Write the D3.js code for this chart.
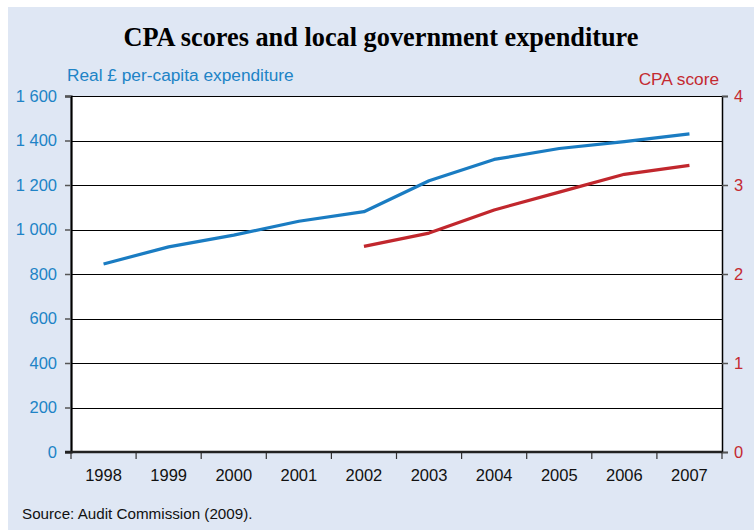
<!DOCTYPE html>
<html>
<head>
<meta charset="utf-8">
<script src="https://cdn.jsdelivr.net/npm/d3@7/dist/d3.min.js"></script>
<style>
  html, body { margin: 0; padding: 0; background: #ffffff; }
  svg { display: block; }
</style>
</head>
<body>
<div id="chart"></div>
<script>
// Years on the x axis
const years = ["1998", "1999", "2000", "2001", "2002", "2003", "2004", "2005", "2006", "2007"];
// Real £ per-capita local government expenditure (left axis)
const expenditure = [845, 922, 975, 1037, 1080, 1219, 1315, 1364, 1395, 1430];
// CPA scores (right axis), available from 2002
const cpaYears = ["2002", "2003", "2004", "2005", "2006", "2007"];
const cpaScores = [2.31, 2.46, 2.72, 2.92, 3.12, 3.22];
// Axis ticks
const leftTicks = [0, 200, 400, 600, 800, 1000, 1200, 1400, 1600];
const rightTicks = [0, 1, 2, 3, 4];

const W = 754, H = 531;
const blue = "#1a7cc2", red = "#c1272d";
const blueText = "#2083c6", redText = "#c42a31";

const svg = d3.select("#chart").append("svg")
  .attr("width", W).attr("height", H);

// background panel
svg.append("rect").attr("x", 8).attr("y", 7).attr("width", W - 8).attr("height", 523)
  .attr("fill", "#dfe7f4");

const plot = { left: 71, right: 722, top: 96, bottom: 452 };

svg.append("rect")
  .attr("x", plot.left).attr("y", plot.top)
  .attr("width", plot.right - plot.left).attr("height", plot.bottom - plot.top)
  .attr("fill", "#ffffff");

const x = d3.scaleBand().domain(years).range([plot.left, plot.right]);
const yL = d3.scaleLinear().domain([0, 1600]).range([plot.bottom, plot.top]);
const yR = d3.scaleLinear().domain([0, 4]).range([plot.bottom, plot.top]);

// thousands separated by a space, e.g. "1 600"
const fmtL = d => d3.format(",")(d).replace(/,/g, " ");

// horizontal gridlines
svg.append("g").selectAll("line").data(leftTicks.filter(v => v > 0)).join("line")
  .attr("x1", plot.left).attr("x2", plot.right)
  .attr("y1", d => Math.round(yL(d)) + 0.5).attr("y2", d => Math.round(yL(d)) + 0.5)
  .attr("stroke", "#000").attr("stroke-width", 1.2);

// left axis
const gL = svg.append("g").attr("transform", `translate(${plot.left},0)`)
  .call(d3.axisLeft(yL).tickValues(leftTicks).tickSize(6).tickPadding(8).tickFormat(fmtL));
gL.select(".domain").attr("stroke", "#000").attr("stroke-width", 2.2);
gL.selectAll(".tick line").attr("stroke", "#555").attr("stroke-width", 1.5);
gL.selectAll(".tick text").attr("fill", blueText)
  .style("font-family", "'Liberation Sans', Arial, sans-serif").style("font-size", "16.5px");

// right axis
const gR = svg.append("g").attr("transform", `translate(${plot.right},0)`)
  .call(d3.axisRight(yR).tickValues(rightTicks).tickSize(6).tickPadding(6).tickFormat(d3.format("d")));
gR.select(".domain").attr("stroke", "#000").attr("stroke-width", 1.5);
gR.selectAll(".tick line").attr("stroke", "#555").attr("stroke-width", 1.5);
gR.selectAll(".tick text").attr("fill", redText)
  .style("font-family", "'Liberation Sans', Arial, sans-serif").style("font-size", "16.5px");

// bottom axis with ticks at band edges
const gB = svg.append("g").attr("transform", `translate(0,${plot.bottom})`);
const edges = years.map(y => x(y)).concat([plot.right]);
gB.selectAll("line.tk").data(edges).join("line").attr("class", "tk")
  .attr("x1", d => d).attr("x2", d => d).attr("y1", 0).attr("y2", 7)
  .attr("stroke", "#333").attr("stroke-width", 1.2);
gB.append("line").attr("x1", plot.left - 6).attr("x2", plot.right)
  .attr("y1", 0).attr("y2", 0).attr("stroke", "#222").attr("stroke-width", 2.4);
gB.selectAll("text").data(years).join("text")
  .attr("x", d => x(d) + x.bandwidth() / 2).attr("y", 29)
  .attr("text-anchor", "middle").attr("fill", "#111")
  .style("font-family", "'Liberation Sans', Arial, sans-serif").style("font-size", "16.5px")
  .text(d => d);

// series lines
const lineL = d3.line().x((d, i) => x(years[i]) + x.bandwidth() / 2).y(d => yL(d));
svg.append("path").datum(expenditure).attr("d", lineL)
  .attr("fill", "none").attr("stroke", blue).attr("stroke-width", 3.2).attr("stroke-linejoin", "round");

const lineR = d3.line().x((d, i) => x(cpaYears[i]) + x.bandwidth() / 2).y(d => yR(d));
svg.append("path").datum(cpaScores).attr("d", lineR)
  .attr("fill", "none").attr("stroke", red).attr("stroke-width", 3.2).attr("stroke-linejoin", "round");

// titles
svg.append("text").attr("x", 381).attr("y", 46).attr("text-anchor", "middle")
  .style("font-family", "'Liberation Serif', 'Times New Roman', serif")
  .style("font-weight", "bold").style("font-size", "26.3px").attr("fill", "#000")
  .text("CPA scores and local government expenditure");

svg.append("text").attr("x", 67).attr("y", 81)
  .style("font-family", "'Liberation Sans', Arial, sans-serif").style("font-size", "17.3px")
  .attr("fill", blueText).text("Real £ per-capita expenditure");

svg.append("text").attr("x", 719).attr("y", 85).attr("text-anchor", "end")
  .style("font-family", "'Liberation Sans', Arial, sans-serif").style("font-size", "17.3px")
  .attr("fill", redText).text("CPA score");

svg.append("text").attr("x", 22).attr("y", 519)
  .style("font-family", "'Liberation Sans', Arial, sans-serif").style("font-size", "15.2px")
  .attr("fill", "#111").text("Source: Audit Commission (2009).");
</script>
</body>
</html>
